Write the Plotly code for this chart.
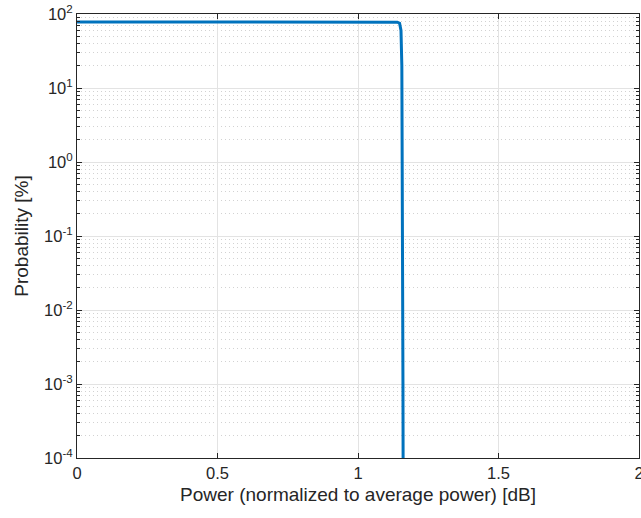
import plotly.graph_objects as go

# Data
power_db = [0.0, 0.5, 1.0, 1.12, 1.14, 1.148, 1.153, 1.156, 1.158, 1.16, 1.161]
prob_pct = [78, 78, 78, 78, 77.5, 75, 60, 20, 1, 0.001, 0.00001]

x_ticks = [0, 0.5, 1, 1.5, 2]
x_ticktext = ["0", "0.5", "1", "1.5", "2"]
y_ticks = [1e-4, 1e-3, 1e-2, 1e-1, 1e0, 1e1, 1e2]
y_ticktext = ["10<sup>-4</sup>", "10<sup>-3</sup>", "10<sup>-2</sup>", "10<sup>-1</sup>",
              "10<sup>0</sup>", "10<sup>1</sup>", "10<sup>2</sup>"]

FONT = "Liberation Sans, Arial, sans-serif"

fig = go.Figure()
fig.add_trace(go.Scatter(x=power_db, y=prob_pct, mode="lines",
                         line=dict(color="#0072BD", width=3), showlegend=False))

axis_common = dict(
    showline=True, linecolor="#262626", linewidth=1, mirror="ticks",
    ticks="inside", ticklen=5, tickcolor="#262626",
    showgrid=True, gridcolor="#e3e3e3", gridwidth=1,
    zeroline=False, automargin=False,
    tickfont=dict(family=FONT, size=16.5, color="#262626"),
)

fig.update_xaxes(
    range=[0, 2], tickvals=x_ticks, ticktext=x_ticktext,
    ticklabeloverflow="allow",
    title=dict(text="Power (normalized to average power) [dB]",
               font=dict(family=FONT, size=19, color="#262626"),
               standoff=6),
    **axis_common,
)
fig.update_yaxes(
    type="log", range=[-4, 2], tickvals=y_ticks, ticktext=y_ticktext,
    title=dict(text="Probability [%]",
               font=dict(family=FONT, size=19, color="#262626"),
               standoff=10),
    minor=dict(ticks="inside", ticklen=3, tickcolor="#262626", showgrid=True,
               gridcolor="#d2d2d2", griddash="1px,3px", gridwidth=1,
               tickvals=[m * 10 ** e for e in range(-4, 2) for m in range(2, 10)]),
    **axis_common,
)

fig.update_layout(
    width=641, height=518,
    margin=dict(l=77, r=2, t=14, b=60),
    plot_bgcolor="white", paper_bgcolor="white",
)

fig.write_html("out.html", config={"displayModeBar": False},
               post_script="document.body.style.margin='0';document.body.style.overflow='hidden';")
